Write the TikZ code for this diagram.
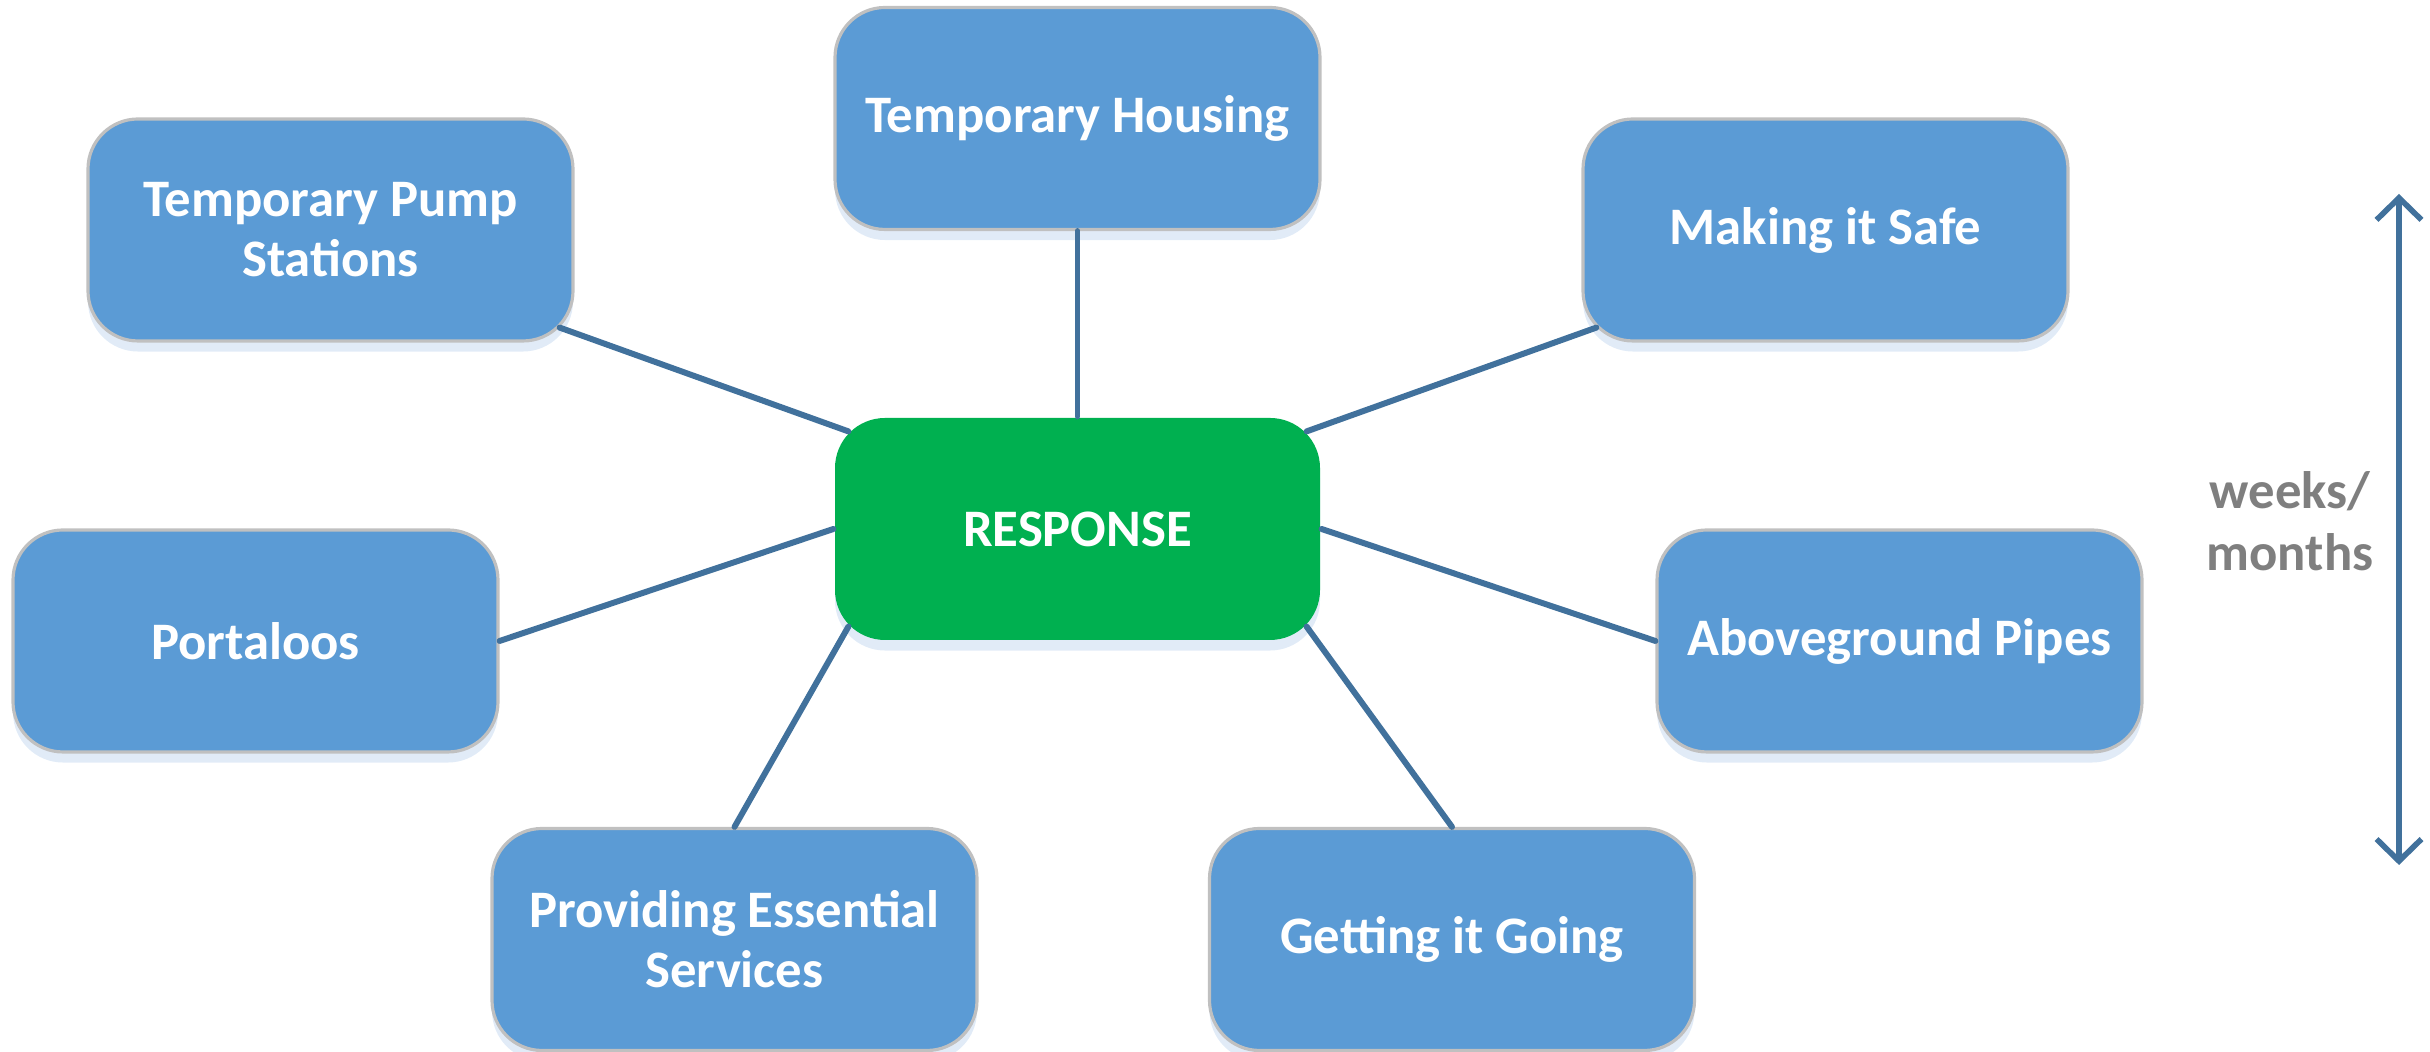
\documentclass[tikz,border=0pt]{standalone}
\usepackage{fontspec}
\setmainfont{Carlito}
\usetikzlibrary{shapes,arrows.meta,positioning,shadows,calc}
\definecolor{boxblue}{HTML}{5B9BD5}
\definecolor{boxrim}{HTML}{C0C0C0}
\definecolor{hubgreen}{HTML}{00B050}
\definecolor{linkblue}{HTML}{41719C}
\definecolor{glow}{HTML}{BDD3EE}
\definecolor{notegray}{HTML}{7F7F7F}
\begin{document}
\begin{tikzpicture}[
	item/.style={draw=boxrim, line width=0.9pt, fill=boxblue, rounded corners=0.5cm,
		minimum width=4.85cm, minimum height=2.22cm, align=center, text=white,
		font=\fontsize{15}{17}\selectfont\bfseries,
		drop shadow={shadow xshift=0pt, shadow yshift=-3pt, opacity=0.45, fill=glow}},
	hub/.style={item, draw=none, fill=hubgreen},
	link/.style={draw=linkblue, line width=1.7pt, line cap=round}]
	\useasboundingbox (0,0) rectangle (24.30,10.52);
	% centre and the seven boxes round it
	\node[hub] (resp) at (10.775,5.23) {RESPONSE};
	\node[item] (housing) at (10.775,9.335) {Temporary Housing};
	\node[item] (pump) at (3.305,8.22) {Temporary Pump\\Stations};
	\node[item] (safe) at (18.255,8.22) {Making it Safe};
	\node[item] (portaloos) at (2.555,4.11) {Portaloos};
	\node[item] (pipes) at (18.995,4.11) {Aboveground Pipes};
	\node[item] (services) at (7.345,1.125) {Providing Essential\\Services};
	\node[item] (going) at (14.52,1.125) {Getting it Going};
	% spokes
	\draw[link] (housing.south) -- (resp.north);
	\draw[link] ($(pump.south east)+(-0.15,0.15)$) -- ($(resp.north west)+(0.15,-0.15)$);
	\draw[link] ($(safe.south west)+(0.15,0.15)$) -- ($(resp.north east)+(-0.15,-0.15)$);
	\draw[link] (portaloos.east) -- (resp.west);
	\draw[link] (pipes.west) -- (resp.east);
	\draw[link] (services.north) -- ($(resp.south west)+(0.15,0.15)$);
	\draw[link] (going.north) -- ($(resp.south east)+(-0.15,0.15)$);
	% time scale
	\coordinate (scaletop) at (23.99,8.58);
	\coordinate (scalebot) at (23.99,1.87);
	\draw[link, line width=1.6pt, {Straight Barb[length=0.22cm,width=0.45cm]}-{Straight Barb[length=0.22cm,width=0.45cm]}] (scaletop) -- (scalebot);
	\node[align=center, text=notegray, font=\fontsize{15}{17.6}\selectfont\bfseries] (timenote) at (22.90,5.31) {weeks/\\months};
\end{tikzpicture}
\end{document}
